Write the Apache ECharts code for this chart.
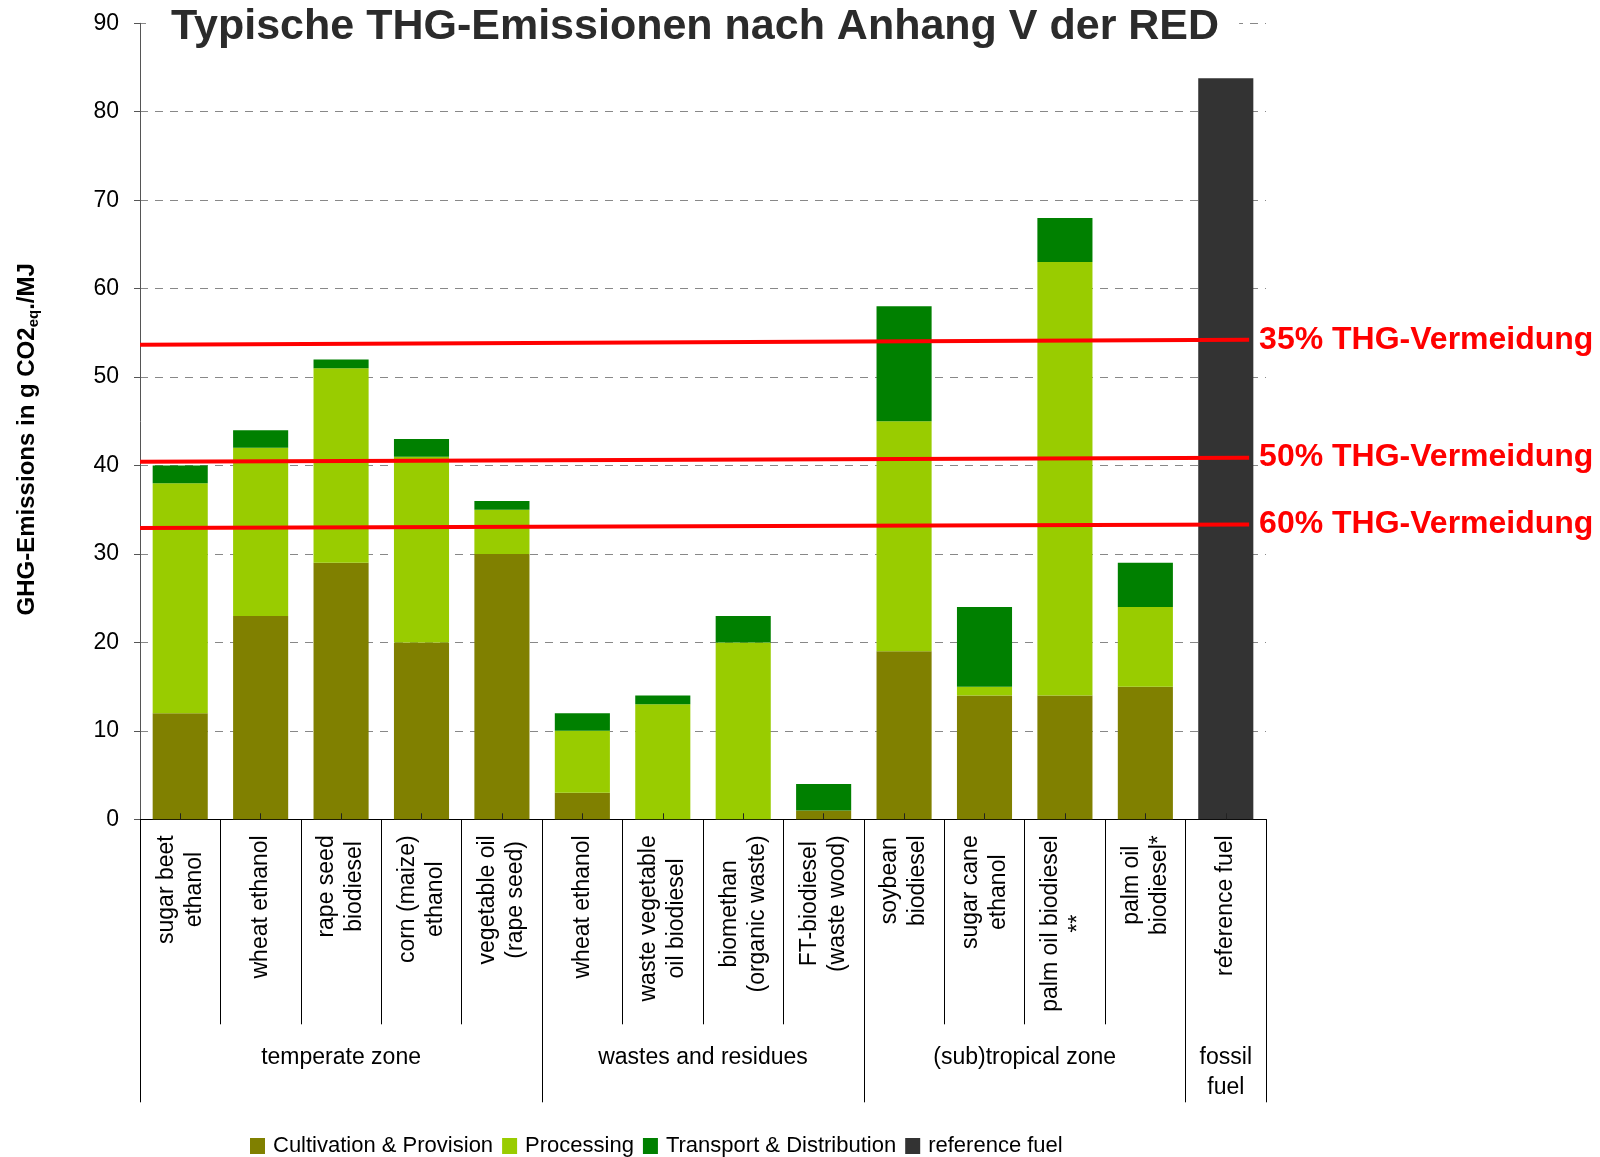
<!DOCTYPE html>
<html>
<head>
<meta charset="utf-8">
<title>Typische THG-Emissionen nach Anhang V der RED</title>
<script src="https://cdn.jsdelivr.net/npm/echarts@6/dist/echarts.min.js"></script>
<style>
  html, body { margin: 0; padding: 0; background: #fff; }
  #chart { width: 1600px; height: 1157px; }
</style>
</head>
<body>
<div id="chart"></div>
<script>
// Pathways (line breaks are kept for the rotated axis labels)
const categories = [
  'sugar beet\nethanol', 'wheat ethanol', 'rape seed\nbiodiesel', 'corn (maize)\nethanol',
  'vegetable oil\n(rape seed)', 'wheat ethanol', 'waste vegetable\noil biodiesel',
  'biomethan\n(organic waste)', 'FT-biodiesel\n(waste wood)', 'soybean\nbiodiesel',
  'sugar cane\nethanol', 'palm oil biodiesel\n**', 'palm oil\nbiodiesel*', 'reference fuel'
];

// Emission shares in g CO2eq/MJ
const cultivation = [12, 23, 29, 20, 30, 3, 0, 0, 1, 19, 14, 14, 15, null];
const processing  = [26, 19, 22, 21, 5, 7, 13, 20, 0, 26, 1, 49, 9, null];
const transport   = [2, 2, 1, 2, 1, 2, 1, 3, 3, 13, 9, 5, 5, null];
const referenceFuel = [null, null, null, null, null, null, null, null, null, null, null, null, null, 83.8];

// Pathway groups along the x axis
const groupNames = ['temperate zone', 'wastes and residues', '(sub)tropical zone', 'fossil\nfuel'];
const groupSizes = [5, 4, 4, 1];

// Saving thresholds (value at left and right end of each line)
const savingNames = ['35% THG-Vermeidung', '50% THG-Vermeidung', '60% THG-Vermeidung'];
const savingStart = [53.65, 40.43, 32.94];
const savingEnd   = [54.21, 40.89, 33.32];

const seriesNames = ['Cultivation & Provision', 'Processing', 'Transport & Distribution', 'reference fuel'];
const seriesColors = ['#808000', '#99CC00', '#008000', '#333333'];

const FONT = '"Liberation Sans", Arial, Helvetica, sans-serif';

// group boundaries and centres in category units
const groupBounds = [0];
groupSizes.forEach(s => groupBounds.push(groupBounds[groupBounds.length - 1] + s));
const groupCenters = groupSizes.map((s, i) => groupBounds[i] + s / 2);

const lineEndX = 13.79; // lines stop just before the right edge of the last bar

const gridBox = { left: 140, right: 334, top: 23.3, bottom: 337.7 };

const chart = echarts.init(document.getElementById('chart'), null, { renderer: 'canvas' });

const barSeries = [cultivation, processing, transport, referenceFuel].map((d, i) => ({
  name: seriesNames[i],
  type: 'bar',
  stack: 'total',
  xAxisIndex: 0,
  yAxisIndex: 0,
  barWidth: '68.5%',
  itemStyle: { color: seriesColors[i] },
  data: d
}));

const lineSeries = savingNames.map((name, i) => ({
  name: name,
  type: 'line',
  xAxisIndex: 1,
  yAxisIndex: 1,
  symbol: 'none',
  silent: true,
  z: 5,
  lineStyle: { color: '#FF0000', width: 4 },
  endLabel: {
    show: true,
    formatter: p => p.seriesName,
    color: '#FF0000',
    fontSize: 32,
    fontWeight: 'bold',
    fontFamily: FONT,
    distance: 10
  },
  data: [[0, savingStart[i]], [lineEndX, savingEnd[i]]]
}));

chart.setOption({
  animation: false,
  backgroundColor: '#fff',
  textStyle: { fontFamily: FONT },
  title: {
    text: 'Typische THG-Emissionen nach Anhang V der RED',
    left: 146,
    top: 3,
    padding: [2, 20, 2, 25],
    backgroundColor: '#fff',
    textStyle: { fontSize: 43, fontWeight: 'bold', color: '#2b2b2b', lineHeight: 44, fontFamily: FONT }
  },
  legend: {
    data: seriesNames,
    left: 245,
    top: 1130,
    icon: 'rect',
    itemWidth: 15,
    itemHeight: 16,
    itemGap: 9,
    selectedMode: false,
    textStyle: { fontSize: 22, color: '#000', fontFamily: FONT, padding: [0, 0, 0, 3] }
  },
  grid: [
    Object.assign({}, gridBox),
    Object.assign({}, gridBox),
    Object.assign({}, gridBox)
  ],
  xAxis: [
    {
      type: 'category',
      gridIndex: 0,
      data: categories,
      boundaryGap: true,
      axisLine: { show: true, lineStyle: { color: '#000', width: 1 } },
      axisTick: { show: true, interval: 0, alignWithLabel: false, length: 205, lineStyle: { color: '#000', width: 1 } },
      axisLabel: {
        interval: 0,
        rotate: 90,
        margin: 16,
        color: '#000',
        fontSize: 23,
        fontFamily: FONT,
        formatter: v => v.split('\n').map(l => '{c|' + l + '}').join('\n'),
        rich: { c: { align: 'center', fontSize: 23, lineHeight: 28, color: '#000', fontFamily: FONT } }
      },
      splitLine: { show: false }
    },
    {
      type: 'value',
      gridIndex: 1,
      min: 0,
      max: 14,
      axisLine: { show: false },
      splitLine: { show: false },
      axisTick: { show: true, customValues: groupBounds, length: 283, lineStyle: { color: '#000', width: 1 } },
      axisLabel: {
        show: true,
        customValues: groupCenters,
        margin: 223,
        color: '#000',
        fontSize: 23,
        lineHeight: 30,
        fontFamily: FONT,
        formatter: v => {
          const idx = groupCenters.findIndex(c => Math.abs(c - v) < 1e-6);
          return idx >= 0 ? groupNames[idx] : '';
        }
      }
    },
    {
      type: 'category',
      gridIndex: 2,
      data: categories,
      z: 10,
      axisLine: { show: false },
      axisLabel: { show: false },
      axisTick: { show: true, interval: 0, alignWithLabel: true, inside: true, length: 6, lineStyle: { color: '#222', width: 1 } },
      splitLine: { show: false }
    }
  ],
  yAxis: [
    {
      type: 'value',
      gridIndex: 0,
      min: 0,
      max: 90,
      interval: 10,
      axisLine: { show: true, lineStyle: { color: '#555', width: 1 } },
      axisTick: { show: true, length: 6, lineStyle: { color: '#555' } },
      axisLabel: { margin: 21, color: '#000', fontSize: 23, fontFamily: FONT },
      splitLine: { show: true, lineStyle: { color: '#888', type: [8, 7], width: 1 } },
      name: '{b|GHG-Emissions in g CO2}{s|eq}{b|./MJ}',
      nameLocation: 'middle',
      nameGap: 99,
      nameTextStyle: {
        padding: [0, 36, 0, 0],
        rich: {
          b: { fontSize: 24, fontWeight: 'bold', color: '#000', lineHeight: 28, fontFamily: FONT },
          s: { fontSize: 15, fontWeight: 'bold', color: '#000', lineHeight: 16, verticalAlign: 'bottom', fontFamily: FONT }
        }
      }
    },
    { type: 'value', gridIndex: 1, min: 0, max: 90, show: false },
    { type: 'value', gridIndex: 2, min: 0, max: 90, show: false }
  ],
  series: barSeries.concat(lineSeries)
});
</script>
</body>
</html>
